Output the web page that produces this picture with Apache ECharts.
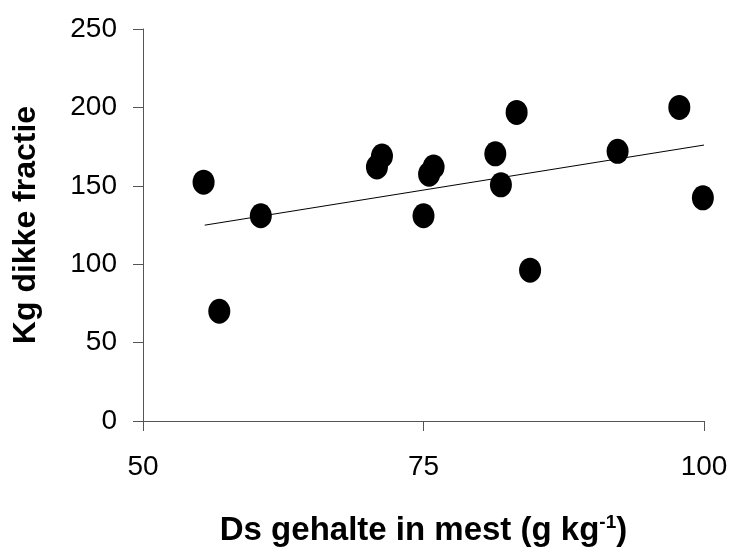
<!DOCTYPE html>
<html>
<head>
<meta charset="utf-8">
<script src="https://cdn.jsdelivr.net/npm/echarts@6/dist/echarts.min.js"></script>
<style>html,body{margin:0;padding:0;background:#fff;}#c{width:735px;height:552px;}</style>
</head>
<body>
<div id="c"></div>
<script>
var dsGehalte = [55.4, 56.8, 60.5, 70.85, 71.3, 75.0, 75.5, 75.9, 81.4, 81.9, 83.3, 84.5, 92.3, 97.8, 99.9];
var kgDikkeFractie = [152.3, 70, 130.9, 162, 169, 130.9, 157.4, 162, 170.4, 150.6, 196.8, 96.2, 172, 200, 142.3];
var trendX = [55.5, 100];
var trendY = [124.9, 176];
var xTicks = [50, 75, 100];
var yTicks = [0, 50, 100, 150, 200, 250];

var pts = dsGehalte.map(function (x, i) { return [x, kgDikkeFractie[i]]; });
var trend = trendX.map(function (x, i) { return [x, trendY[i]]; });

var FONT = 'Liberation Sans, Arial, sans-serif';
var chart = echarts.init(document.getElementById('c'));
chart.setOption({
  animation: false,
  backgroundColor: '#fff',
  grid: { left: 143, right: 31, top: 29, bottom: 131, containLabel: false },
  xAxis: {
    type: 'value', min: 50, max: 100, interval: 25,
    name: '{n|Ds gehalte in mest (g kg}{s|-1}{n|)}',
    nameLocation: 'middle', nameGap: 92,
    nameTextStyle: {
      rich: {
        n: { fontFamily: FONT, fontWeight: 'bold', fontSize: 33, color: '#000' },
        s: { fontFamily: FONT, fontWeight: 'bold', fontSize: 19, color: '#000', verticalAlign: 'top', padding: [0, 0, 16, 0] }
      }
    },
    axisLine: { show: true, lineStyle: { color: '#555', width: 1 } },
    axisTick: { show: true, inside: false, length: 10, lineStyle: { color: '#555' } },
    axisLabel: { fontFamily: FONT, fontSize: 28, color: '#000', margin: 32,
      formatter: function (v) { return xTicks.indexOf(v) >= 0 ? String(v) : ''; } },
    splitLine: { show: false }
  },
  yAxis: {
    type: 'value', min: 0, max: 250, interval: 50,
    name: 'Kg dikke fractie', nameLocation: 'middle', nameGap: 101, nameRotate: 90,
    nameTextStyle: { fontFamily: FONT, fontWeight: 'bold', fontSize: 32, color: '#000' },
    axisLine: { show: true, lineStyle: { color: '#555', width: 1 } },
    axisTick: { show: true, inside: false, length: 10, lineStyle: { color: '#555' } },
    axisLabel: { fontFamily: FONT, fontSize: 28, color: '#000', margin: 26,
      formatter: function (v) { return yTicks.indexOf(v) >= 0 ? String(v) : ''; } },
    splitLine: { show: false }
  },
  series: [
    {
      type: 'line', data: trend, symbol: 'none', clip: false,
      lineStyle: { color: '#000', width: 1 }, z: 1
    },
    {
      type: 'scatter', data: pts, symbol: 'circle', symbolSize: [22, 25], clip: false,
      itemStyle: { color: '#000', opacity: 1 }, z: 2
    }
  ]
});
</script>
</body>
</html>
